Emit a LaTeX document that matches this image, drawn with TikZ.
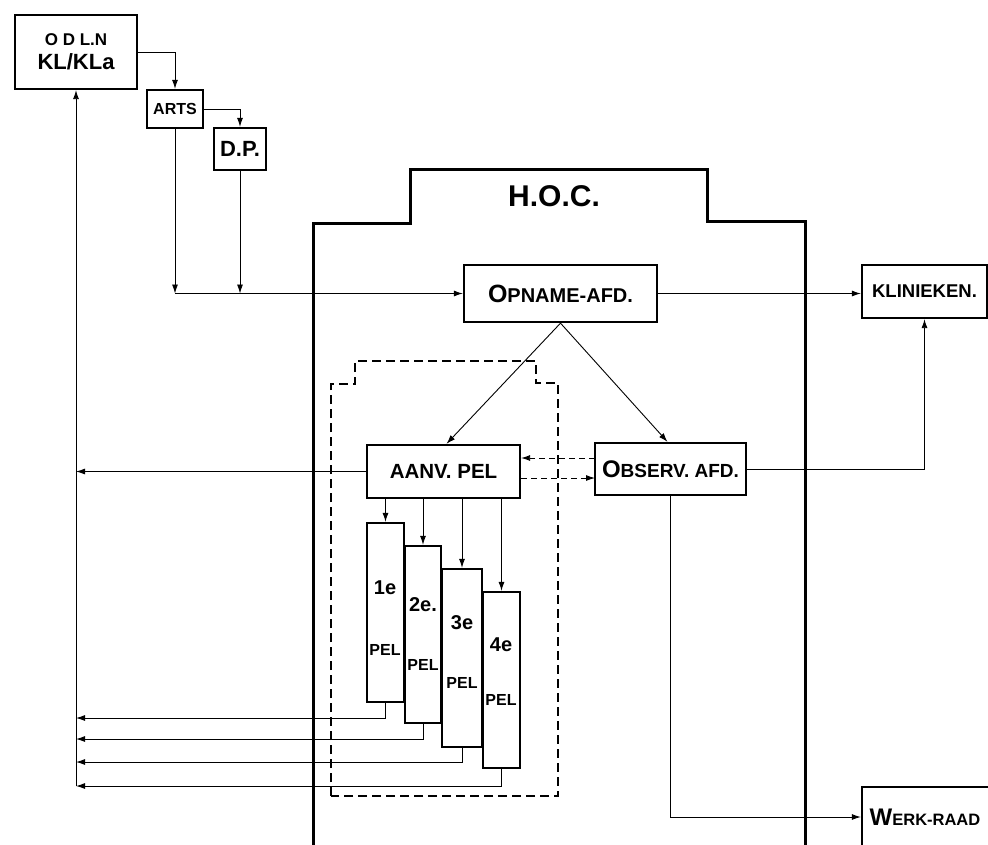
\documentclass[tikz,border=0pt]{standalone}
\usepackage{fontspec}
\setmainfont{Liberation Sans}
\usetikzlibrary{arrows.meta}
\newcommand\fsz[1]{\fontsize{#1}{#1}\selectfont}
\begin{document}
\begin{tikzpicture}[x=1pt,y=-1pt,
  box/.style={draw,line width=2.3pt,inner sep=0pt,font=\bfseries},
  conn/.style={line width=0.9pt,-{Latex[length=9pt,width=6pt]}},
  dsh/.style={line width=1.4pt,dash pattern=on 9pt off 5pt},
  dconn/.style={conn,dash pattern=on 6pt off 4pt},
  lbl/.style={inner sep=0pt,font=\bfseries}]
\useasboundingbox[fill=white] (0,0) rectangle (988,844);

% H.O.C. outline
\draw[line width=3pt] (313,850) -- (313,223) -- (410,223) -- (410,169) -- (707,169) -- (707,221) -- (805,221) -- (805,850);
\node[lbl] (hoc) at (554,196) {\fsz{30}H.O.C.};

% dashed group
\draw[dsh] (331,796) -- (331,384) -- (355,384) -- (355,361) -- (536,361) -- (536,383) -- (558,383) -- (558,796) -- cycle;

% boxes
\node[box,minimum width=122pt,minimum height=74pt,align=center] (odln) at (76,52)
  {{\fsz{17}O D L.N}\\[7pt]{\fsz{22}KL/KLa}};
\node[box,minimum width=56pt,minimum height=38pt] (arts) at (175,109) {\fsz{16}ARTS};
\node[box,minimum width=52pt,minimum height=42pt] (dp) at (240,149) {\fsz{22}D.P.};
\node[box,minimum width=193pt,minimum height=57pt] (opname) at (560.5,293.5)
  {{\fsz{25}O}{\fsz{20}PNAME-AFD.}};
\node[box,minimum width=125pt,minimum height=53pt] (klin) at (924.5,291.5) {\fsz{18.5}KLINIEKEN.};
\node[box,minimum width=153pt,minimum height=53pt] (aanv) at (443.5,471.5) {\fsz{20.5}AANV. PEL};
\node[box,minimum width=151pt,minimum height=52pt] (observ) at (670.5,469)
  {{\fsz{24}O}{\fsz{19}BSERV. AFD.}};
\node[box,minimum width=138pt,minimum height=60pt] (werk) at (931,817)
  {\hspace*{-12pt}{\fsz{24}W}{\fsz{16.5}ERK-RAAD}};

% pel columns
\node[box,minimum width=37pt,minimum height=179pt] (c1) at (385.5,612.5) {};
\node[box,minimum width=36pt,minimum height=177pt] (c2) at (423,634.5) {};
\node[box,minimum width=40pt,minimum height=178pt] (c3) at (462,658) {};
\node[box,minimum width=37pt,minimum height=176pt] (c4) at (501.5,680) {};
\node[lbl] (t1) at (385,588) {\fsz{20}1e};
\node[lbl] (p1) at (385,650) {\fsz{16}PEL};
\node[lbl] (t2) at (423,605) {\fsz{20}2e.};
\node[lbl] (p2) at (423,665) {\fsz{16}PEL};
\node[lbl] (t3) at (462,623) {\fsz{20}3e};
\node[lbl] (p3) at (462,683) {\fsz{16}PEL};
\node[lbl] (t4) at (501,645) {\fsz{20}4e};
\node[lbl] (p4) at (501,700) {\fsz{16}PEL};

% connectors top
\draw[conn] (odln.east) -| (arts.north);
\draw[conn] (arts.east) -| (dp.north);
\coordinate (j1) at (arts.south |- opname.west);
\coordinate (j2) at (dp.south |- opname.west);
\draw[conn] (arts.south) -- (j1);
\draw[conn] (dp.south) -- (j2);
\draw[conn] (j1) -- (opname.west);
\draw[conn] (opname.east) -- (opname.east -| klin.west);
\draw[conn] (opname.south) -- ([xshift=3pt]aanv.north);
\draw[conn] (opname.south) -- ([xshift=-3pt]observ.north);

% between aanv and observ
\coordinate (d1) at (595,458);
\coordinate (d2) at (595,478);
\draw[dconn] (d1) -- (d1 -| aanv.east);
\draw[dconn] (d2 -| aanv.east) -- (d2);
\draw[conn] (observ.east) -| (klin.south);
\draw[conn] (observ.south) |- (werk.west);

% aanv to columns
\draw[conn] (c1.north |- aanv.south) -- (c1.north);
\draw[conn] (c2.north |- aanv.south) -- (c2.north);
\draw[conn] (c3.north |- aanv.south) -- (c3.north);
\draw[conn] (c4.north |- aanv.south) -- (c4.north);

% left return lines
\coordinate (v0) at (odln.south |- aanv.west);
\coordinate (v1) at (76,718);
\coordinate (v2) at (76,739);
\coordinate (v3) at (76,762);
\coordinate (v4) at (76,786);
\draw[conn] (aanv.west) -- (v0);
\draw[conn] (c1.south) |- (v1);
\draw[conn] (c2.south) |- (v2);
\draw[conn] (c3.south) |- (v3);
\draw[conn] (c4.south) |- (v4);
\draw[conn] (v4) -- (odln.south);
\end{tikzpicture}
\end{document}
